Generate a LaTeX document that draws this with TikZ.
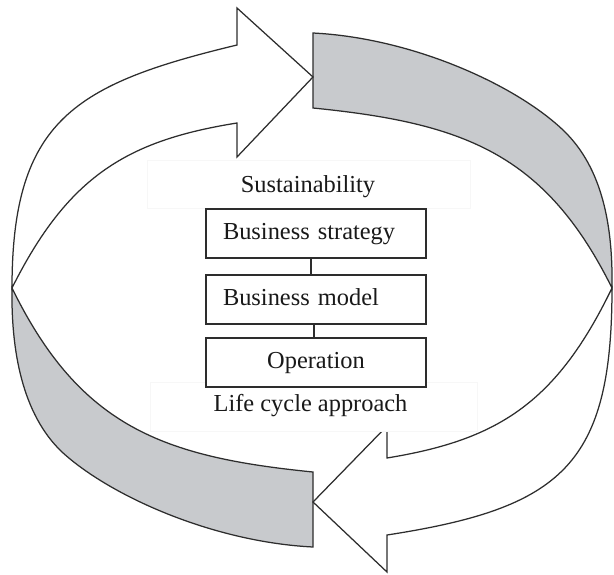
\documentclass[tikz,border=0pt]{standalone}
\usepackage{fontspec}
\setmainfont{Liberation Serif}
\definecolor{bandgray}{RGB}{200,202,205}
\definecolor{ink}{RGB}{45,45,45}
\definecolor{txt}{RGB}{25,25,25}
\definecolor{faint}{RGB}{247,247,247}
\tikzset{
  band/.style={fill=bandgray, draw=ink, line width=1.25pt, line join=miter},
  arrowbody/.style={fill=white, draw=ink, line width=1.25pt, line join=miter},
  stepbox/.style={draw=ink, line width=1.25pt, fill=white, minimum width=220pt,
    minimum height=49pt, inner xsep=17pt, inner ysep=0pt, text width=186pt,
    font=\fontsize{24.4}{28}\selectfont, text=txt, text height=18pt, text depth=6pt},
  backing/.style={fill=white, draw=faint, line width=0.6pt, inner sep=0pt},
  caption/.style={font=\fontsize{24.4}{28}\selectfont, text=txt, inner sep=0pt,
    anchor=base},
  link/.style={draw=ink, line width=1.25pt}
}
\begin{document}
\begin{tikzpicture}[x=1pt,y=-1pt]
\useasboundingbox (0,0) rectangle (614,574);
% upper-right grey band
\filldraw[band] (313,108) -- (313,33)
  .. controls (413,38) and (515.9,85.2) .. (563,130)
  .. controls (602.9,167.9) and (613,227) .. (612,288)
  .. controls (545,153) and (463,123) .. (313,108) -- cycle;
% lower-left grey band
\filldraw[band] (313,472) -- (313,547)
  .. controls (213,542) and (110,496) .. (62,452)
  .. controls (22,414) and (11,350) .. (12,288)
  .. controls (80,427) and (163,457) .. (313,472) -- cycle;
% upper white arrow
\filldraw[arrowbody] (12,288)
  .. controls (12,120) and (75,84) .. (237,45)
  -- (237,8) -- (313,77) -- (237,157) -- (237,123)
  .. controls (127,140.6) and (67.9,176.25) .. (12,288) -- cycle;
% lower white arrow
\filldraw[arrowbody] (612,288)
  .. controls (612,465) and (562,508) .. (387,535)
  -- (387,572) -- (313,502) -- (387,426) -- (387,458)
  .. controls (497,440) and (556,404) .. (612,288) -- cycle;
% text backings
\node[backing, minimum width=323pt, minimum height=48pt] (sback) at (308.5,184) {};
\node[backing, minimum width=327pt, minimum height=49pt] (lback) at (313.5,406.5) {};
% captions
\node[caption] (sust) at (308,192) {Sustainability};
\node[caption] (life) at (310.5,411.5) {Life cycle approach};
% boxes
\node[stepbox, align=left] (strategy) at (316,233.5) {Business strategy};
\node[stepbox, align=left] (model) at (316,299.5) {Business model};
\node[stepbox, align=center] (operation) at (316,362.5) {Operation};
\draw[link] ([xshift=-5pt]strategy.south) -- ([xshift=-5pt]model.north);
\draw[link] ([xshift=-2pt]model.south) -- ([xshift=-2pt]operation.north);
\end{tikzpicture}
\end{document}
